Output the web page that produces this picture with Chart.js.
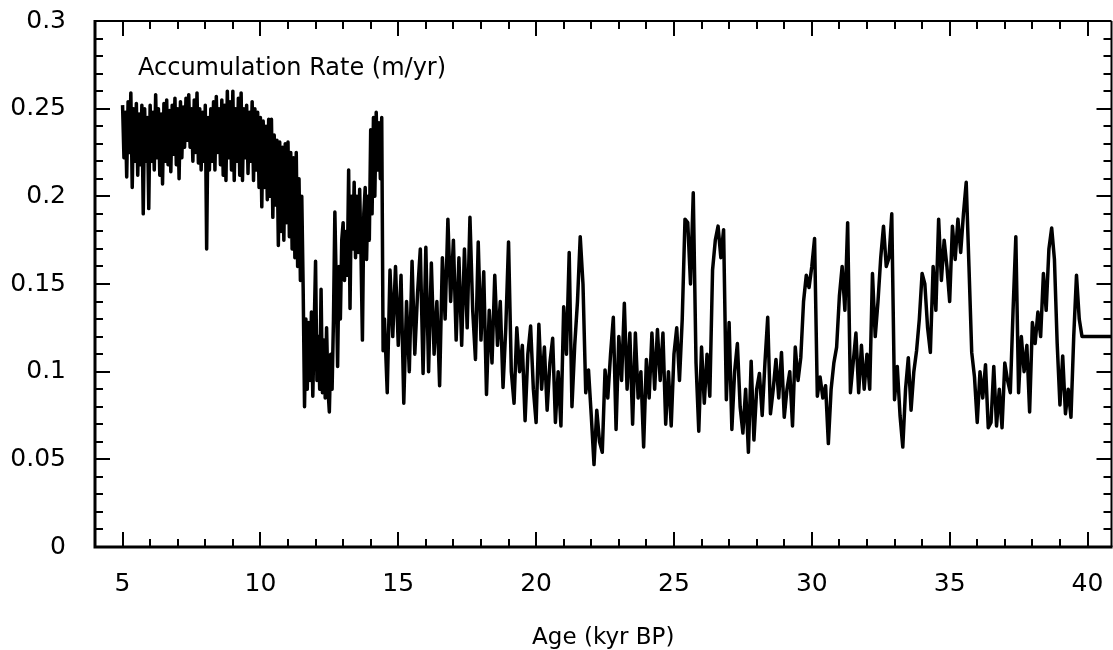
<!DOCTYPE html>
<html><head><meta charset="utf-8">
<script src="https://cdn.jsdelivr.net/npm/chart.js@4.4.1/dist/chart.umd.min.js"></script>
<style>html,body{margin:0;padding:0;background:#fff;}#wrap{width:1113px;height:650px;}</style>
</head><body><div id="wrap"><canvas id="c" width="1113" height="650"></canvas></div>
<script>
// Holocene / deglacial part: accumulation rate (m/yr) every 0.05 kyr from 5.00 to 14.45 kyr BP
const denseStart = 5.0;
const denseStep = 0.05;
const denseRates = [
  0.252,0.222,0.248,0.211,0.254,0.225,0.259,0.205,0.25,0.22,0.253,0.212,0.247,0.218,0.252,0.19,0.25,0.22,0.245,0.193,
  0.252,0.22,0.248,0.215,0.258,0.222,0.25,0.212,0.247,0.207,0.253,0.22,0.255,0.218,0.249,0.214,0.252,0.224,0.256,0.218,
  0.25,0.21,0.254,0.222,0.251,0.228,0.256,0.232,0.258,0.228,0.25,0.22,0.255,0.225,0.259,0.219,0.25,0.215,0.248,0.22,
  0.252,0.17,0.245,0.215,0.25,0.22,0.254,0.215,0.257,0.225,0.25,0.218,0.255,0.212,0.252,0.209,0.26,0.222,0.254,0.215,
  0.26,0.209,0.25,0.22,0.256,0.212,0.259,0.209,0.25,0.222,0.252,0.213,0.248,0.22,0.254,0.209,0.25,0.215,0.248,0.205,
  0.245,0.194,0.243,0.205,0.24,0.198,0.244,0.2,0.244,0.188,0.235,0.195,0.232,0.172,0.231,0.18,0.228,0.175,0.23,0.185,
  0.231,0.177,0.225,0.17,0.222,0.165,0.225,0.16,0.21,0.152,0.2,0.148,0.08,0.13,0.09,0.128,0.095,0.134,0.086,0.125,
  0.163,0.095,0.12,0.09,0.147,0.088,0.118,0.085,0.125,0.09,0.077,0.11,0.09,0.13,0.191,0.15,0.103,0.16,0.13,0.175,
  0.185,0.152,0.18,0.155,0.215,0.136,0.2,0.17,0.208,0.165,0.2,0.168,0.204,0.165,0.118,0.19,0.205,0.164,0.2,0.175,
  0.238,0.19,0.245,0.2,0.248,0.215,0.242,0.21,0.245,0.112];

// Glacial part: accumulation rate (m/yr) every 0.1 kyr from 14.5 to 40.9 kyr BP
const coarseStart = 14.5;
const coarseStep = 0.1;
const rates15 = [
  0.13,0.088,0.158,0.12,0.16,
  0.115,0.155,0.082,0.14,0.1,0.163,0.11,0.145,0.17,0.099,
  0.171,0.1,0.162,0.11,0.14,0.092,0.165,0.13,0.187,0.14,
  0.175,0.118,0.165,0.115,0.17,0.125,0.188,0.135,0.107,0.174,
  0.118,0.157,0.087,0.135,0.105,0.155,0.115,0.14,0.091,0.125,
  0.174,0.1,0.082,0.125,0.1,0.115,0.072,0.11,0.126,0.09];
const rates20 = [
  0.071,0.127,0.09,0.114,0.078,0.105,0.119,0.071,0.1,0.069,
  0.137,0.11,0.168,0.08,0.115,0.14,0.177,0.15,0.088,0.101,
  0.075,0.047,0.078,0.06,0.054,0.101,0.085,0.11,0.131,0.067,
  0.12,0.095,0.139,0.09,0.122,0.07,0.122,0.085,0.1,0.057,
  0.107,0.085,0.122,0.09,0.124,0.095,0.122,0.07,0.1,0.069];
const rates25 = [
  0.11,0.125,0.095,0.13,0.187,0.185,0.15,0.202,0.105,0.066,
  0.114,0.082,0.11,0.086,0.158,0.175,0.183,0.165,0.181,0.084,
  0.128,0.067,0.1,0.116,0.08,0.065,0.09,0.054,0.106,0.061,
  0.09,0.099,0.075,0.105,0.131,0.076,0.09,0.107,0.085,0.111,
  0.074,0.09,0.1,0.069,0.114,0.095,0.108,0.14,0.155,0.148];
const rates30 = [
  0.16,0.176,0.086,0.097,0.085,0.092,0.059,0.09,0.105,0.114,
  0.143,0.16,0.135,0.185,0.088,0.105,0.122,0.088,0.115,0.09,
  0.11,0.09,0.156,0.12,0.14,0.165,0.183,0.16,0.165,0.19,
  0.084,0.103,0.075,0.057,0.09,0.108,0.078,0.1,0.112,0.13,
  0.156,0.15,0.125,0.111,0.16,0.135,0.187,0.152,0.175,0.16];
const rates35 = [
  0.14,0.183,0.164,0.187,0.168,0.19,0.208,0.16,0.111,0.097,
  0.071,0.1,0.085,0.104,0.068,0.071,0.103,0.069,0.09,0.068,
  0.105,0.095,0.088,0.135,0.177,0.088,0.12,0.1,0.115,0.077,
  0.128,0.116,0.134,0.12,0.156,0.135,0.17,0.182,0.164,0.116,
  0.081,0.109,0.076,0.09,0.074,0.12,0.155,0.13,0.12,0.12];
const rates40 = [0.12,0.12,0.12,0.12,0.12,0.12,0.12,0.12,0.12,0.12];

const xTicks = [5,10,15,20,25,30,35,40];
const yTicks = [0,0.05,0.1,0.15,0.2,0.25,0.3];
const yTickLabels = ['0','0.05','0.1','0.15','0.2','0.25','0.3'];
const xTitle = 'Age (kyr BP)';
const seriesLabel = 'Accumulation Rate (m/yr)';

const coarseRates = [].concat(rates15, rates20, rates25, rates30, rates35, rates40);
const points = denseRates.map((v, i) => ({x: +(denseStart + i * denseStep).toFixed(2), y: v}))
  .concat(coarseRates.map((v, i) => ({x: +(coarseStart + i * coarseStep).toFixed(2), y: v})));

const FONT = '"DejaVu Sans", "Liberation Sans", Arial, sans-serif';

const frame = {
  id: 'frame',
  afterDatasetsDraw(chart) {
    const {ctx, chartArea: a, scales: {x, y}} = chart;
    ctx.save();
    ctx.strokeStyle = '#000';
    ctx.lineCap = 'butt';
    ctx.lineWidth = 2;
    ctx.beginPath();
    for (let v = 5; v <= 40; v++) {
      const px = Math.round(x.getPixelForValue(v));
      const len = v % 5 === 0 ? 15 : 8;
      ctx.moveTo(px, a.bottom); ctx.lineTo(px, a.bottom - len);
      ctx.moveTo(px, a.top); ctx.lineTo(px, a.top + len);
    }
    for (let k = 1; k < 30; k++) {
      const py = Math.round(y.getPixelForValue(k / 100));
      const len = k % 5 === 0 ? 15 : 8;
      ctx.moveTo(a.left, py); ctx.lineTo(a.left + len, py);
      ctx.moveTo(a.right, py); ctx.lineTo(a.right - len, py);
    }
    ctx.stroke();
    ctx.lineWidth = 2;
    ctx.beginPath();
    ctx.moveTo(a.left, a.top); ctx.lineTo(a.right, a.top);
    ctx.moveTo(a.right, a.top); ctx.lineTo(a.right, a.bottom);
    ctx.stroke();
    ctx.lineWidth = 3;
    ctx.beginPath();
    ctx.moveTo(a.left, a.top - 1); ctx.lineTo(a.left, a.bottom);
    ctx.lineTo(a.right + 1, a.bottom);
    ctx.stroke();
    ctx.fillStyle = '#000';
    ctx.font = '24px ' + FONT;
    ctx.textBaseline = 'alphabetic';
    ctx.textAlign = 'left';
    ctx.fillText(seriesLabel, 138, 75);
    ctx.restore();
  }
};

function noPad(s) { s.paddingLeft = 0; s.paddingRight = 0; s.paddingTop = 0; s.paddingBottom = 0; }

new Chart(document.getElementById('c'), {
  type: 'line',
  data: {
    datasets: [{
      data: points,
      borderColor: '#000',
      borderWidth: 3.5,
      borderJoinStyle: 'round',
      pointRadius: 0,
      tension: 0,
      fill: false
    }]
  },
  options: {
    responsive: false,
    animation: false,
    events: [],
    layout: {padding: {top: 21, right: 1.5, left: 0, bottom: 0}},
    plugins: {legend: {display: false}, tooltip: {enabled: false}},
    scales: {
      x: {
        type: 'linear', min: 4, max: 40.87,
        afterFit(s) { s.height = 103; noPad(s); },
        afterBuildTicks(s) { s.ticks = xTicks.map(v => ({value: v})); },
        grid: {display: false, drawTicks: false},
        border: {display: false},
        ticks: {color: '#000', font: {family: FONT, size: 25}, padding: 22, autoSkip: false, maxRotation: 0,
                callback: v => String(v)},
        title: {display: true, text: xTitle, color: '#000', font: {family: FONT, size: 23}, padding: {top: 0, bottom: -2}}
      },
      y: {
        min: 0, max: 0.3,
        afterFit(s) { s.width = 95; noPad(s); },
        afterBuildTicks(s) { s.ticks = yTicks.map(v => ({value: v})); },
        grid: {display: false, drawTicks: false},
        border: {display: false},
        ticks: {color: '#000', font: {family: FONT, size: 25}, padding: 29,
                callback: (v) => { const i = yTicks.findIndex(t => Math.abs(t - v) < 1e-9); return i >= 0 ? yTickLabels[i] : ''; }}
      }
    }
  },
  plugins: [frame]
});
</script>
</body></html>
